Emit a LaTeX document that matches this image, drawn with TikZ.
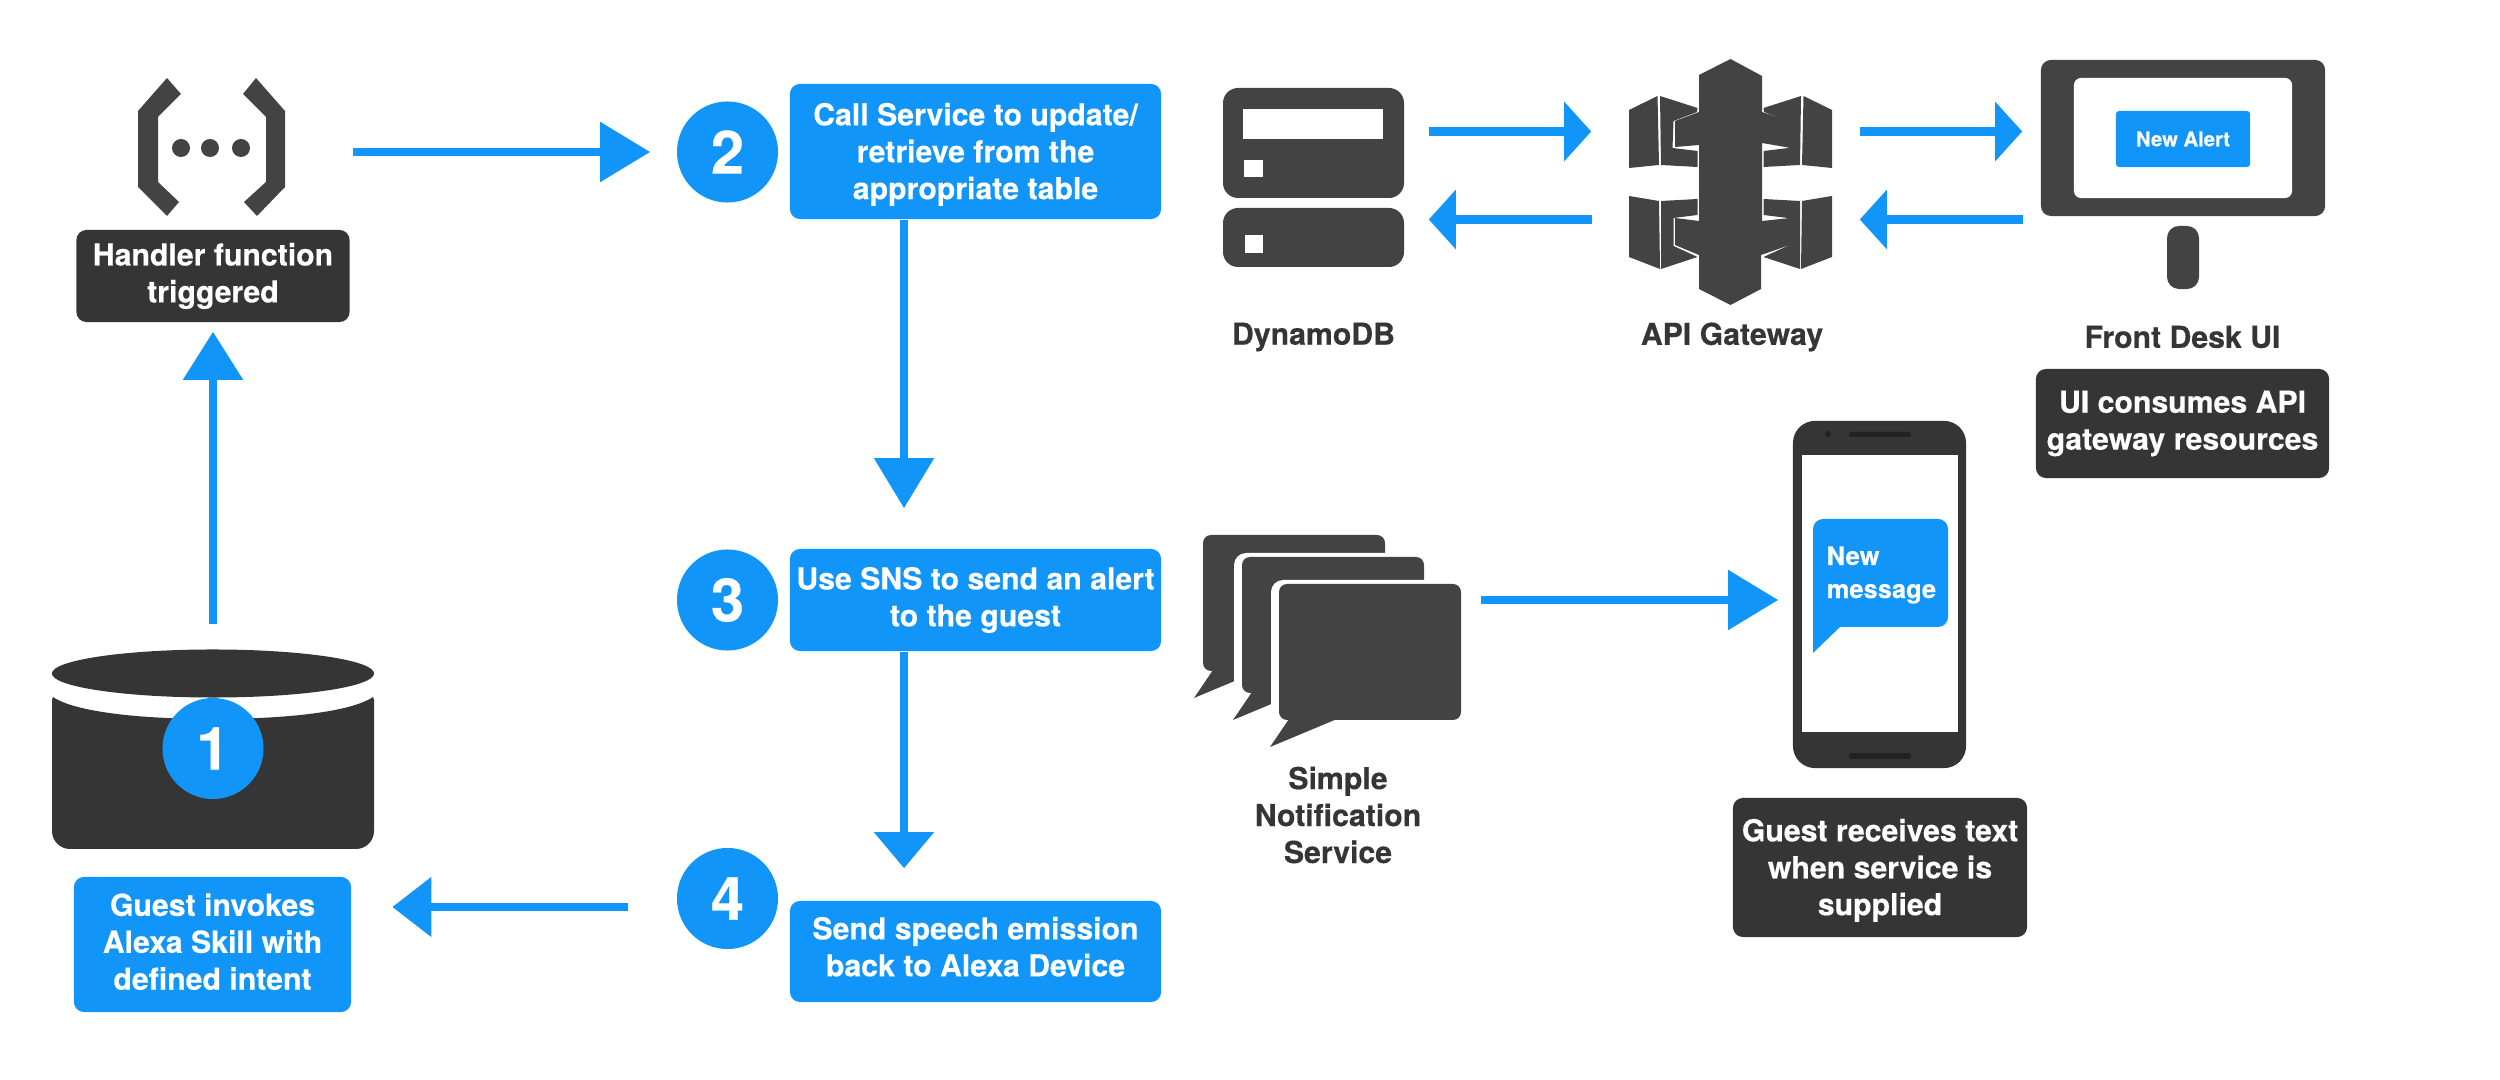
\documentclass[tikz,border=0pt]{standalone}
\usepackage{fontspec}
\setmainfont[BoldFeatures={FakeBold=0.35}]{TeX Gyre Heros}
\usetikzlibrary{arrows.meta,shapes.geometric,calc}
\definecolor{flowblue}{HTML}{1295F8}
\definecolor{boxdark}{HTML}{353535}
\definecolor{icondark}{HTML}{434343}
\definecolor{speakerdark}{HTML}{222222}
\newcommand{\pushdown}[1]{\rule{0pt}{#1}}
\newcommand{\pushup}[1]{\rule[-#1]{0pt}{#1}}
\tikzset{
  task/.style={fill=flowblue, text=white, rounded corners=1mm, inner sep=0pt, align=center,
    font=\bfseries\fontsize{8.6}{10.5}\selectfont},
  note/.style={task, fill=boxdark},
  badge/.style={circle, fill=flowblue, text=white, inner sep=0pt, minimum size=10.1mm,
    font=\bfseries\fontsize{17}{17}\selectfont},
  caption/.style={text=boxdark, inner sep=0pt, align=center,
    font=\bfseries\fontsize{8.6}{10.5}\selectfont},
  icon/.style={inner sep=0pt},
  flow/.style={draw=flowblue, line width=0.82mm, -{Triangle[length=#1, width=5.8mm, fill=flowblue]}},
  flow/.default=5mm,
}

\begin{document}
\begin{tikzpicture}[x=0.01cm,y=-0.01cm]
  \useasboundingbox (0,0) rectangle (2500,1080);

  % lambda icon
  \node[icon, minimum width=14.7mm, minimum height=12.8mm] (lambda) at (211.5,152) {};
  \fill[icondark] (167,78) -- (181,94) -- (158,117) -- (158,182) -- (179,202) -- (167,216)
    -- (138,187) -- (138,111) -- cycle;
  \fill[icondark] (256,78) -- (285,111) -- (285,187) -- (257,216) -- (244,202) -- (266,182)
    -- (266,117) -- (243,94) -- cycle;
  \foreach \x in {181,210,241}{
    \fill[icondark] (\x,148) circle (0.9mm);
  }
  \node[note, minimum width=27.3mm, minimum height=9.2mm] (handler) at (213,276) {Handler function\\triggered};

  % device
  \node[ellipse, fill=boxdark, inner sep=0pt, minimum width=32.2mm, minimum height=4.8mm] (cyltop) at (213,673.5) {};
  \fill[boxdark] (53,697) .. controls (75,712) and (140,719) .. (213,719)
    .. controls (286,719) and (351,712) .. (373,697) -- (374,700)
    [rounded corners=1.8mm] -- (374,849) -- (52,849) [sharp corners] -- (52,700) -- cycle;
  \node[badge] (bada) at (213,748.5) {1};
  \node[task, minimum width=27.7mm, minimum height=13.5mm] (guest) at (212.5,944.5)
    {Guest invokes\\Alexa Skill with\\defined intent\pushup{1.7pt}};

  % steps
  \node[badge] (badb) at (727.5,152) {2};
  \node[task, minimum width=37.1mm, minimum height=13.5mm] (taskb) at (975.5,151.5)
    {\pushdown{8pt}Call Service to update/\\retrieve from the\\appropriate table};
  \node[badge] (badc) at (727.5,600) {3};
  \node[task, minimum width=37.1mm, minimum height=10.2mm] (taskc) at (975.5,600)
    {Use SNS to send an alert\\to the guest};
  \node[badge] (badd) at (727.5,898.5) {4};
  \node[task, minimum width=37.1mm, minimum height=10.1mm] (taskd) at (975.5,951.5)
    {Send speech emission\\back to Alexa Device\pushup{2.8pt}};

  % dynamodb icon
  \node[icon, minimum width=18.1mm, minimum height=17.9mm] (dynamo) at (1313.5,177.5) {};
  \fill[icondark, rounded corners=1.5mm] (1223,88) rectangle (1404,198);
  \fill[icondark, rounded corners=1.5mm] (1223,208) rectangle (1404,267);
  \fill[white] (1243,109) rectangle (1382.5,139);
  \fill[white] (1244,160) rectangle (1263,177);
  \fill[white] (1245,235) rectangle (1263,253);
  \node[caption] (dynamocap) at (1313.5,337) {DynamoDB};

  % api gateway icon
  \node[icon, minimum width=20.3mm, minimum height=24.6mm] (gateway) at (1730.5,182) {};
  \fill[icondark] (1730.5,59) -- (1762,76) -- (1762,112) -- (1790,121) -- (1791,148) -- (1762,143)
    -- (1762,221) -- (1790,218) -- (1790,245) -- (1761,255) -- (1761,289) -- (1730.5,305)
    -- (1699,289) -- (1699,255) -- (1675,245) -- (1675,218) -- (1699,221) -- (1699,145)
    -- (1675,147) -- (1675,121) -- (1699,112) -- (1699,75) -- cycle;
  \foreach \side in {1,-1}{
    \begin{scope}[shift={(1730.5,0)},xscale=\side]
      \fill[icondark] (-73,96) -- (-101.5,110) -- (-101.5,168) -- (-71.5,165) -- cycle;
      \fill[icondark] (-70.5,96) -- (-33,108) -- (-33.5,112) -- (-57,121) -- (-58,148)
        -- (-33,151) -- (-33,167) -- (-69.5,165) -- cycle;
      \fill[icondark] (-101.5,196) -- (-71.5,201) -- (-70.5,269) -- (-101.5,257) -- cycle;
      \fill[icondark] (-69.5,201) -- (-33,199) -- (-33,215) -- (-57,218) -- (-57,246)
        -- (-33,257) -- (-69.5,269) -- cycle;
    \end{scope}
  }
  \node[caption] (gatewaycap) at (1732,337) {API Gateway};

  % front desk monitor
  \node[icon, fill=icondark, rounded corners=1mm, minimum width=28.4mm, minimum height=15.6mm] (monitor) at (2183,138) {};
  \node[icon, fill=white, rounded corners=0.7mm, minimum width=21.8mm, minimum height=12mm] (screen) at (2183,138) {};
  \node[task, rounded corners=0.3mm, minimum width=13.4mm, minimum height=5.6mm,
    font=\bfseries\fontsize{5.75}{7}\selectfont] (alert) at (2183,139) {New Alert};
  \node[icon, fill=icondark, rounded corners=1.2mm, minimum width=3.2mm, minimum height=6.3mm] (stand) at (2183,257.5) {};
  \node[caption] (monitorcap) at (2182.5,337) {Front Desk UI};
  \node[note, minimum width=29.3mm, minimum height=10.9mm] (uinote) at (2182.5,423.5)
    {UI consumes API\\gateway resources};

  % sns bubbles
  \foreach \bx/\by in {1203/535,1242/557,1279/584}{
    \begin{scope}[shift={(\bx,\by)}]
      \fill[white, rounded corners=1.2mm] (-8,-4) rectangle (190,200);
      \fill[icondark, rounded corners=0.8mm] (0,0) rectangle (182,136);
      \fill[icondark] (10,135) -- (-9,163) -- (58,135) -- cycle;
    \end{scope}
  }
  \node[icon, minimum width=18.2mm, minimum height=13.6mm] (sns) at (1370,652) {};
  \node[caption] (snscap) at (1338,815) {Simple\\Notification\\Service};

  % phone
  \node[icon, fill=boxdark, rounded corners=2.2mm, minimum width=17.3mm, minimum height=34.7mm] (phone) at (1879.5,594.5) {};
  \fill[white] (1802,455) rectangle (1958,732);
  \fill[speakerdark] (1828,434) circle (0.3mm);
  \fill[speakerdark, rounded corners=0.25mm] (1849,432) rectangle (1911,437);
  \fill[speakerdark, rounded corners=0.25mm] (1849,753) rectangle (1911,759);
  \fill[flowblue] (1813,653) [rounded corners=1mm] -- (1813,519) -- (1948,519) -- (1948,627)
    [sharp corners] -- (1840,627) -- cycle;
  \node[anchor=west, text=white, inner sep=0pt, align=left,
    font=\bfseries\fontsize{7.25}{9.4}\selectfont] (message) at (1826,575) {New\\message};
  \node[note, minimum width=29.4mm, minimum height=13.9mm] (guestnote) at (1880,867.5)
    {\pushdown{8pt}Guest receives text\\when service is\\supplied};

  % rows and columns of the arrows
  \coordinate (rowa) at (0,131.5);
  \coordinate (rowb) at (0,219.5);
  \coordinate (rowc) at (0,600);
  \coordinate (rowd) at (0,907);
  \coordinate (colb) at (904,0);

  \draw[flow=4.8mm, shorten >=0.9mm] (cyltop.north) ++(0,-25) -- (handler.south);
  \draw[flow, shorten <=6.7mm, shorten >=2.6mm] (lambda.east) -- (badb.west);
  \draw[flow, shorten >=4mm] (colb |- taskb.south) -- (colb |- taskc.north);
  \draw[flow=3.6mm, shorten >=3.2mm] (colb |- taskc.south) -- (colb |- taskd.north);
  \draw[flow=3.9mm, shorten <=4.85mm, shorten >=4.05mm] (rowd -| badd.west) -- (rowd -| guest.east);
  \draw[flow=2.7mm, shorten <=2.4mm, shorten >=3.7mm] (rowa -| dynamo.east) -- (rowa -| gateway.west);
  \draw[flow=2.7mm, shorten <=3.6mm, shorten >=2.4mm] (rowb -| gateway.west) -- (rowb -| dynamo.east);
  \draw[flow=2.7mm, shorten <=2.7mm, shorten >=1.8mm] (rowa -| gateway.east) -- (rowa -| monitor.west);
  \draw[flow=2.7mm, shorten <=1.7mm, shorten >=2.7mm] (rowb -| monitor.west) -- (rowb -| gateway.east);
  \draw[flow, shorten <=1.9mm, shorten >=1.4mm] (rowc -| sns.east) -- (rowc -| phone.west);
\end{tikzpicture}
\end{document}
